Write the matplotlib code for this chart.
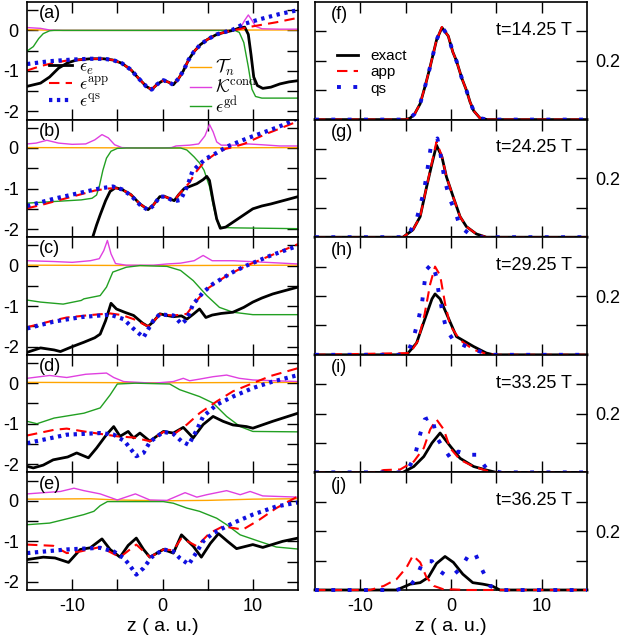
import matplotlib
matplotlib.use("Agg")
import matplotlib.pyplot as plt
from matplotlib.lines import Line2D

plt.rcParams["font.family"] = ["Liberation Sans", "DejaVu Sans"]
plt.rcParams["mathtext.fontset"] = "cm"
plt.rcParams["axes.unicode_minus"] = False

# ---------------- left panels: energies (a)-(e) ----------------
# (a)
za_ee = [-15, -13.5, -12.5, -11.5, -10.5, -9.5, -8, -6.5, -5.5, -4.5, -3.5, -2.7, -1.8, -1.2, -0.6, 0.1,
         0.7, 1.2, 1.8, 2.3, 2.9, 3.5, 4.2, 5, 6, 7, 7.8, 8.5, 9.1, 9.5, 9.8, 10.1, 10.5, 11.1, 12, 13, 14, 15]
a_ee = [-1.38, -1.3, -1.15, -0.93, -0.8, -0.73, -0.7, -0.7, -0.73, -0.81, -0.97, -1.17, -1.38, -1.46, -1.33, -1.23,
        -1.28, -1.34, -1.18, -1.0, -0.72, -0.52, -0.35, -0.22, -0.1, -0.04, 0.0, 0.06, 0.08, -0.1, -0.6, -1.15, -1.36, -1.43, -1.4, -1.32, -1.27, -1.24]
za_app = [-15, -13.5, -12, -10.5, -9.5, -8, -6.5, -5.5, -4.5, -3.5, -2.7, -1.8, -1.2, -0.6, 0.1,
          0.7, 1.2, 1.8, 2.3, 2.9, 3.5, 4.2, 5, 6, 7, 7.8, 10, 12.6, 15]
a_app = [-0.99, -0.88, -0.8, -0.74, -0.73, -0.7, -0.7, -0.73, -0.81, -0.97, -1.17, -1.38, -1.46, -1.33, -1.23,
         -1.28, -1.34, -1.18, -1.0, -0.72, -0.52, -0.35, -0.22, -0.1, -0.04, 0.0, 0.1, 0.2, 0.31]
za_qs = [-15, -12.5, -10, -8, -6.5, -5.5, -4.5, -3.5, -2.7, -1.8, -1.2, -0.6, 0.1,
         0.7, 1.2, 1.8, 2.3, 2.9, 3.5, 4.2, 5, 6, 7.8, 8.9, 10.7, 12.9, 15]
a_qs = [-0.83, -0.76, -0.72, -0.7, -0.7, -0.73, -0.81, -0.97, -1.17, -1.38, -1.46, -1.33, -1.23,
        -1.28, -1.34, -1.18, -1.0, -0.72, -0.52, -0.35, -0.22, -0.1, 0.02, 0.15, 0.27, 0.4, 0.5]
za_tn = [-15, -12, 0, 12, 15]
a_tn = [0.02, 0.0, 0.0, 0.01, 0.01]
za_k = [-15, -13.5, -12.5, -11, 8, 8.6, 9.1, 9.5, 9.9, 10.3, 11, 13, 15]
a_k = [0.07, 0.05, 0.01, 0.0, 0.0, 0.05, 0.25, 0.38, 0.25, 0.1, 0.04, 0.03, 0.03]
za_gd = [-15, -14.3, -13.7, -13.2, -12.5, -12, 8, 8.5, 9, 9.5, 9.9, 10.3, 11, 15]
a_gd = [-0.51, -0.4, -0.2, -0.08, -0.01, 0.0, 0.0, -0.05, -0.3, -0.9, -1.45, -1.63, -1.67, -1.67]

# (b)
zb_ee = [-7.8, -7.3, -6.9, -6.3, -5.8, -5.2, -4.5, -3.5, -2.5, -1.6, -1.0, -0.3, 0.3, 0.8, 1.3, 1.8, 2.4, 3.0,
         3.8, 4.5, 4.9, 5.2, 5.6, 6.0, 6.4, 7, 8, 9, 10, 11, 12, 13, 14, 15]
b_ee = [-2.25, -1.9, -1.65, -1.3, -1.07, -0.98, -1.02, -1.15, -1.38, -1.52, -1.4, -1.2, -1.2, -1.25, -1.3, -1.15, -1.0, -0.95,
        -0.88, -0.78, -0.7, -0.8, -1.3, -1.75, -1.98, -1.95, -1.8, -1.65, -1.5, -1.43, -1.38, -1.32, -1.26, -1.2]
zb_app = [-15, -13, -11, -9, -7.5, -6, -5.2, -4.5, -3.5, -2.5, -1.6, -1.0, -0.3, 0.3, 0.8, 1.3, 1.8, 2.4,
          3.0, 3.6, 4.3, 5, 6, 7, 7.8, 9, 10, 11.5, 13, 15]
b_app = [-1.49, -1.38, -1.26, -1.14, -1.05, -1.0, -0.99, -1.02, -1.15, -1.38, -1.52, -1.4, -1.2, -1.2, -1.25, -1.3, -1.15, -1.0,
         -0.85, -0.62, -0.43, -0.28, -0.12, -0.02, 0.02, 0.1, 0.2, 0.35, 0.48, 0.66]
zb_qs = [-15, -12, -9, -7, -5.5, -4.5, -3.5, -2.5, -1.6, -1.0, -0.3, 0.3, 1.0, 1.6, 2.0, 2.4, 2.8, 3.3,
         4.0, 4.9, 6, 7.2, 8.5, 10, 12, 13.5, 15]
b_qs = [-1.43, -1.25, -1.1, -1.0, -0.95, -1.02, -1.17, -1.4, -1.53, -1.42, -1.2, -1.2, -1.28, -1.3, -1.28, -1.1, -0.91, -0.58,
        -0.42, -0.25, -0.12, 0.04, 0.16, 0.29, 0.45, 0.58, 0.74]
zb_tn = [-15, 0, 15]
b_tn = [0.01, 0.0, 0.01]
zb_k = [-15, -14, -12.8, -11.5, -10, -8.5, -7.5, -6.7, -6, -5.3, -4.5, -3, 0, 1, 1.5, 3, 4, 4.7, 5.2,
        5.6, 6, 6.5, 8, 9.5, 11, 13, 15]
b_k = [0.1, 0.12, 0.19, 0.12, 0.09, 0.1, 0.2, 0.33, 0.25, 0.08, 0.01, 0.0, 0.0, 0.01, 0.05, 0.07, 0.1, 0.3, 0.58,
       0.4, 0.15, 0.07, 0.07, 0.1, 0.08, 0.05, 0.05]
zb_gd = [-15, -12, -9, -7.8, -7.3, -7, -6.6, -6.2, -5.7, -5, -4, 2, 2.7, 3.5, 4.1, 4.6, 5.2, 5.6, 6.0, 6.5, 8, 15]
b_gd = [-1.36, -1.32, -1.28, -1.24, -1.16, -0.95, -0.55, -0.25, -0.08, -0.01, 0.0, 0.0, -0.05, -0.22, -0.37, -0.55,
        -0.95, -1.4, -1.78, -1.96, -1.97, -1.99]

# (c)
zc_ee = [-15, -13.5, -12, -11.3, -10, -8.7, -7.5, -6.9, -6.3, -5.7, -5.1, -4.2, -3.2, -2.2, -1.6, -1.0, -0.3,
         0.5, 1.2, 2.1, 2.7, 3.4, 4.1, 4.8, 5.5, 6.5, 7.8, 9, 10, 11, 12.2, 13.5, 15]
c_ee = [-2.14, -2.03, -2.08, -2.12, -2.0, -1.89, -1.78, -1.69, -1.36, -0.93, -1.07, -1.15, -1.23, -1.42, -1.5, -1.38, -1.19,
        -1.23, -1.26, -1.24, -1.32, -1.2, -1.07, -1.28, -1.22, -1.18, -1.15, -1.03, -0.9, -0.8, -0.7, -0.62, -0.53]
zc_app = [-15, -12, -10.6, -8, -5.8, -4.5, -3.2, -1.6, -1.0, -0.3, 0.5, 1.2, 2.1, 2.7, 3.8, 4.9, 7.1, 9.3, 12, 15]
c_app = [-1.52, -1.35, -1.28, -1.22, -1.18, -1.22, -1.32, -1.5, -1.38, -1.2, -1.22, -1.23, -1.21, -1.19, -0.86, -0.58,
         -0.25, 0.0, 0.25, 0.53]
zc_qs = [-15, -12, -9, -5.8, -4.3, -3.2, -2.1, -1.5, -1.0, -0.3, 0.5, 1.2, 2.1, 2.7, 3.4, 4.5, 5.6, 7.8, 9.3, 12, 15]
c_qs = [-1.55, -1.38, -1.27, -1.21, -1.32, -1.56, -1.77, -1.54, -1.35, -1.2, -1.22, -1.23, -1.44, -1.32, -0.95, -0.66,
        -0.45, -0.16, 0.0, 0.25, 0.49]
zc_tn = [-15, 0, 15]
c_tn = [0.01, 0.0, 0.01]
zc_k = [-15, -12, -10, -8, -7, -6.5, -6.1, -5.7, -5.2, -4, -1, 0.5, 2, 3.5, 4.5, 5.5, 7.8, 11.5, 15]
c_k = [0.12, 0.1, 0.08, 0.12, 0.17, 0.37, 0.62, 0.29, 0.05, 0.01, 0.01, 0.04, 0.06, 0.12, 0.25, 0.12, 0.12, 0.08, 0.04]
zc_gd = [-15, -13.5, -11, -9, -8.7, -6.9, -6.2, -5.5, -4, -2.5, 0.5, 2, 3.4, 4.9, 6.3, 7.8, 10, 15]
c_gd = [-0.85, -0.9, -0.95, -0.86, -0.82, -0.74, -0.53, -0.16, -0.04, 0.0, -0.02, -0.12, -0.37, -0.74, -1.03, -1.15,
        -1.21, -1.21]

# (d)
zd_ee = [-15, -14.3, -13.2, -12.1, -10.5, -9.5, -8.2, -7.3, -6.2, -5.4, -4.7, -3.8, -3.2, -2.5, -1.4, 0.1, 1.2,
         2.3, 3.4, 4.5, 5.6, 6.7, 7.8, 9.3, 10, 12.2, 15]
d_ee = [-2.05, -2.09, -2.02, -1.89, -1.82, -1.72, -1.84, -1.6, -1.27, -1.07, -1.31, -1.19, -1.35, -1.23, -1.43, -1.19, -1.23,
        -1.09, -1.35, -1.02, -0.82, -0.94, -1.03, -1.07, -1.11, -0.94, -0.74]
zd_app = [-15, -12, -10.6, -8.7, -6.9, -5, -3.2, -1.4, 0.1, 1.2, 2.7, 4.1, 6, 7.8, 10, 12, 15]
d_app = [-1.29, -1.15, -1.12, -1.19, -1.25, -1.31, -1.34, -1.43, -1.2, -1.27, -1.02, -0.74, -0.45, -0.2, 0.0, 0.18, 0.37]
zd_qs = [-15, -10.6, -6.9, -5.4, -4.2, -2.9, -2.1, -1.4, 0.1, 1.2, 2.1, 2.9, 3.8, 4.5, 6, 7.8, 10, 12.2, 15]
d_qs = [-1.48, -1.27, -1.23, -1.27, -1.43, -1.8, -1.72, -1.45, -1.2, -1.25, -1.43, -1.52, -1.15, -0.82, -0.53, -0.33,
        -0.12, 0.04, 0.2]
zd_tn = [-15, 0, 15]
d_tn = [0.02, 0.01, 0.02]
zd_k = [-15, -12.5, -10.6, -8.5, -6.2, -5.4, -4.3, -1, 1.2, 2.3, 3, 4.1, 5.6, 7.1, 8.5, 10, 15]
d_k = [0.12, 0.19, 0.14, 0.22, 0.25, 0.14, 0.04, 0.0, 0.04, 0.12, 0.06, 0.1, 0.16, 0.2, 0.12, 0.08, 0.04]
zd_gd = [-15, -13.9, -12, -8.7, -6.9, -5.8, -5, -3, 0.8, 1.9, 4.1, 5.6, 7.1, 8.6, 10, 15]
d_gd = [-0.94, -1.0, -0.86, -0.74, -0.61, -0.29, -0.02, 0.0, -0.02, -0.16, -0.33, -0.49, -0.82, -1.07, -1.19, -1.2]

# (e)
ze_ee = [-15, -13.2, -11.9, -10.4, -9.1, -8, -6.7, -5.8, -4.7, -3.8, -2.9, -2.1, -1.4, 0.1, 1.2, 2.1, 3.4, 4.3,
         5.3, 6.2, 7.2, 8.2, 10, 11.1, 13.3, 15]
e_ee = [-1.45, -1.39, -1.41, -1.52, -1.2, -1.16, -0.94, -1.2, -1.39, -1.1, -0.92, -1.2, -1.39, -1.2, -1.29, -0.84, -1.12,
        -1.39, -1.05, -0.81, -1.0, -1.18, -1.08, -1.15, -1.0, -0.92]
ze_app = [-15, -12.1, -10.6, -9.1, -6.9, -4.7, -2.9, -1.4, 0.1, 1.2, 2.1, 3.8, 5.2, 6.7, 8.9, 10.7, 12.6, 15]
e_app = [-1.08, -1.11, -1.29, -1.25, -1.14, -1.39, -1.08, -1.39, -1.2, -1.22, -0.92, -1.12, -0.8, -0.63, -0.71, -0.47,
         -0.18, 0.11]
ze_qs = [-15, -10.6, -6.9, -5.4, -4.3, -3.7, -2.9, -2.1, -1.2, 0.1, 1.2, 1.9, 2.9, 3.6, 4.5, 5.6, 7.8, 10, 12.6, 15]
e_qs = [-1.29, -1.2, -1.16, -1.25, -1.41, -1.57, -1.82, -1.66, -1.39, -1.2, -1.25, -1.41, -1.57, -1.33, -1.0, -0.8,
        -0.55, -0.34, -0.14, -0.04]
ze_tn = [-15, -8, -5, 0, 5, 10, 15]
e_tn = [0.04, 0.05, 0.02, 0.0, 0.01, 0.04, 0.05]
ze_k = [-15, -11.3, -9.8, -8.7, -6.9, -5, -3, -1.4, 0.5, 2.5, 3.8, 4.9, 7.1, 8.6, 9.7, 11.1, 15]
e_k = [0.17, 0.23, 0.31, 0.25, 0.17, 0.02, 0.17, 0.02, 0.01, 0.2, 0.09, 0.15, 0.25, 0.15, 0.23, 0.12, 0.09]
ze_gd = [-15, -12.5, -10.3, -8.7, -7.6, -6.9, -6.1, -3, 0.1, 1.2, 2.7, 4.1, 6, 7.1, 8.6, 10.7, 12.6, 15]
e_gd = [-0.59, -0.55, -0.43, -0.34, -0.26, -0.12, -0.02, -0.02, -0.02, -0.06, -0.18, -0.26, -0.43, -0.59, -0.84, -1.0,
        -1.14, -1.19]

# ---------------- right panels: densities (f)-(j) ----------------
times = ["t=14.25 T", "t=24.25 T", "t=29.25 T", "t=33.25 T", "t=36.25 T"]

zf = [-15, -5, -4.5, -4, -3.4, -2.8, -2.3, -1.6, -1.0, -0.3, 0.2, 0.6, 1.2, 1.7, 2.1, 2.5, 3.2, 4, 15]
f_exact = [0, 0, 0.005, 0.02, 0.054, 0.12, 0.18, 0.27, 0.313, 0.284, 0.23, 0.2, 0.14, 0.1, 0.06, 0.03, 0.005, 0, 0]
f_app = [0, 0, 0.005, 0.02, 0.054, 0.12, 0.18, 0.27, 0.315, 0.284, 0.23, 0.2, 0.14, 0.1, 0.06, 0.03, 0.005, 0, 0]
f_qs = [0, 0, 0.005, 0.02, 0.054, 0.12, 0.18, 0.27, 0.315, 0.284, 0.23, 0.2, 0.14, 0.1, 0.06, 0.03, 0.005, 0, 0]

zg = [-15, -5.3, -4.2, -3.4, -2.7, -2.1, -1.6, -1.0, -0.5, 0.3, 1.0, 1.7, 2.8, 3.9, 15]
g_exact = [0, 0, 0.025, 0.07, 0.17, 0.25, 0.313, 0.273, 0.205, 0.132, 0.07, 0.036, 0.011, 0, 0]
g_app = [0, 0, 0.025, 0.07, 0.17, 0.255, 0.325, 0.275, 0.205, 0.132, 0.07, 0.036, 0.011, 0, 0]
zg_qs = [-15, -5, -4.5, -3.8, -3.0, -2.7, -2.2, -1.5, -1.2, -0.7, -0.1, 0.4, 1.0, 1.9, 3.2, 15]
g_qs = [0, 0, 0.02, 0.06, 0.155, 0.21, 0.313, 0.336, 0.29, 0.194, 0.127, 0.093, 0.036, 0.014, 0, 0]

zh = [-15, -4.9, -3.8, -2.9, -2.1, -1.76, -1.2, -0.5, 0.6, 2.5, 3.9, 4.7, 15]
h_exact = [0, 0, 0.04, 0.12, 0.19, 0.207, 0.19, 0.14, 0.062, 0.028, 0.006, 0, 0]
zh_app = [-15, -4.5, -3.6, -2.9, -2.3, -1.76, -1.2, -0.66, -0.1, 1.0, 2.5, 3.9, 5, 15]
h_app = [0, 0.006, 0.05, 0.14, 0.24, 0.3, 0.27, 0.175, 0.1, 0.05, 0.017, 0.003, 0, 0]
zh_qs = [-15, -5, -4.5, -4.0, -3.6, -3.2, -2.9, -2.7, -2.1, -1.6, -1.4, -0.85, -0.5, 0.26, 1.7, 3.2, 4.7, 15]
h_qs = [0, 0, 0.028, 0.073, 0.12, 0.175, 0.25, 0.29, 0.31, 0.265, 0.22, 0.13, 0.085, 0.05, 0.028, 0.011, 0, 0]

zi = [-15, -5.3, -4.1, -3.0, -2.1, -1.2, -0.1, 1.0, 2.5, 3.9, 5.0, 15]
i_exact = [0, 0, 0.02, 0.054, 0.1, 0.134, 0.09, 0.048, 0.02, 0.008, 0, 0]
zi_app = [-15, -8.6, -7.4, -5.6, -4.1, -3.0, -2.3, -1.6, -0.8, -0.1, 1.0, 2.5, 3.9, 5, 15]
i_app = [0, 0, 0.008, 0.01, 0.037, 0.083, 0.146, 0.18, 0.146, 0.083, 0.043, 0.02, 0.006, 0, 0]
zi_qs = [-15, -5, -4.5, -4.0, -3.4, -2.9, -2.1, -1.6, -0.9, 0.07, 0.8, 1.7, 2.8, 3.9, 5.4, 15]
i_qs = [0, 0, 0.025, 0.054, 0.13, 0.18, 0.19, 0.12, 0.086, 0.043, 0.071, 0.06, 0.06, 0.014, 0, 0]

zj = [-15, -6, -4.5, -3.4, -2.5, -1.6, -0.66, 0.26, 1.3, 2.4, 3.5, 4.5, 5.4, 15]
j_exact = [0, 0, 0.02, 0.025, 0.043, 0.09, 0.114, 0.094, 0.054, 0.025, 0.02, 0.014, 0, 0]
zj_app = [-15, -8.9, -7.4, -6.0, -4.9, -4.2, -3.4, -2.7, -1.9, -0.8, 0.26, 1.7, 15]
j_app = [0, 0, 0.014, 0.037, 0.077, 0.117, 0.094, 0.043, 0.014, 0.002, 0.002, 0, 0]
zj_qs = [-15, -6, -4.5, -3.8, -3.1, -2.1, -1.4, -0.5, 0.3, 1.1, 1.9, 2.6, 3.4, 4.3, 5.4, 15]
j_qs = [0, 0, 0.014, 0.043, 0.098, 0.098, 0.068, 0.048, 0.052, 0.075, 0.117, 0.129, 0.071, 0.014, 0, 0]

left_labels = ["(a)", "(b)", "(c)", "(d)", "(e)"]
right_labels = ["(f)", "(g)", "(h)", "(i)", "(j)"]

C_QS = "#1010e0"
DOTS_L = (0, (0.8, 1.1))   # dense square dots, left column
DOTS_R = (0, (1.0, 3.2))   # sparse square dots, right column


def style_axes(ax, yticks):
    ax.set_xlim(-15, 15)
    ax.set_xticks([-10, -5, 0, 5, 10])
    ax.set_yticks(yticks)
    ax.tick_params(direction="in", length=8, width=1, top=True, right=True, labelsize=13, pad=6)
    for s in ax.spines.values():
        s.set_linewidth(1.2)


def draw_left(ax, curves, label, show_x):
    (zt, tn), (zk, kk), (zg_, gd), (ze, ee), (za, ap), (zq, qs) = curves
    ax.plot(zt, tn, color="orange", lw=1)
    ax.plot(zk, kk, color="#e040e0", lw=1)
    ax.plot(zg_, gd, color="#22a022", lw=1)
    ax.plot(ze, ee, color="black", lw=2)
    ax.plot(za, ap, color="red", lw=1.5, ls=(0, (5, 3)))
    ax.plot(zq, qs, color=C_QS, lw=3, ls=DOTS_L)
    style_axes(ax, [-2, -1.5, -1, -0.5, 0, 0.5])
    ax.set_ylim(-2.2, 0.7)
    ax.set_yticklabels(["-2", "", "-1", "", "0", ""])
    if show_x:
        ax.set_xticklabels(["-10", "", "0", "", "10"])
        ax.set_xlabel("z ( a. u.)", fontsize=14, labelpad=2)
    else:
        ax.set_xticklabels([])
    ax.text(0.045, 0.9, label, transform=ax.transAxes, fontsize=13, va="center")


def draw_right(ax, curves, label, tlabel, show_x):
    (ze, ex), (za, ap), (zq, qs) = curves
    ax.plot(ze, ex, color="black", lw=2, clip_on=False, zorder=3)
    ax.plot(za, ap, color="red", lw=1.5, ls=(0, (5, 3)), clip_on=False, zorder=3)
    ax.plot(zq, qs, color=C_QS, lw=2.8, ls=DOTS_R, clip_on=False, zorder=3)
    style_axes(ax, [0.1, 0.2, 0.3])
    ax.set_ylim(0, 0.4)
    ax.tick_params(labelleft=False, labelright=True)
    ax.set_yticklabels(["", "0.2", ""])
    if show_x:
        ax.set_xticklabels(["-10", "", "0", "", "10"])
        ax.set_xlabel("z ( a. u.)", fontsize=14, labelpad=2)
    else:
        ax.set_xticklabels([])
    ax.text(0.06, 0.89, label, transform=ax.transAxes, fontsize=13, va="center")
    ax.text(0.945, 0.76, tlabel, transform=ax.transAxes, fontsize=13, va="center", ha="right")


fig = plt.figure(figsize=(6.24, 6.4), dpi=100)
top = 1 - 2 / 640
bottom = 1 - 590 / 640
h = (top - bottom) / 5

left_data = [
    [(za_tn, a_tn), (za_k, a_k), (za_gd, a_gd), (za_ee, a_ee), (za_app, a_app), (za_qs, a_qs)],
    [(zb_tn, b_tn), (zb_k, b_k), (zb_gd, b_gd), (zb_ee, b_ee), (zb_app, b_app), (zb_qs, b_qs)],
    [(zc_tn, c_tn), (zc_k, c_k), (zc_gd, c_gd), (zc_ee, c_ee), (zc_app, c_app), (zc_qs, c_qs)],
    [(zd_tn, d_tn), (zd_k, d_k), (zd_gd, d_gd), (zd_ee, d_ee), (zd_app, d_app), (zd_qs, d_qs)],
    [(ze_tn, e_tn), (ze_k, e_k), (ze_gd, e_gd), (ze_ee, e_ee), (ze_app, e_app), (ze_qs, e_qs)],
]
right_data = [
    [(zf, f_exact), (zf, f_app), (zf, f_qs)],
    [(zg, g_exact), (zg, g_app), (zg_qs, g_qs)],
    [(zh, h_exact), (zh_app, h_app), (zh_qs, h_qs)],
    [(zi, i_exact), (zi_app, i_app), (zi_qs, i_qs)],
    [(zj, j_exact), (zj_app, j_app), (zj_qs, j_qs)],
]

left_axes = []
right_axes = []
for k in range(5):
    y0 = top - (k + 1) * h
    axl = fig.add_axes([27 / 624, y0, 271 / 624, h])
    draw_left(axl, left_data[k], left_labels[k], k == 4)
    left_axes.append(axl)
    axr = fig.add_axes([315 / 624, y0, 272 / 624, h])
    draw_right(axr, right_data[k], right_labels[k], times[k], k == 4)
    right_axes.append(axr)

# legends in (a)
ax = left_axes[0]
h1 = [Line2D([], [], color="black", lw=2),
      Line2D([], [], color="red", lw=1.5, ls=(0, (5, 3))),
      Line2D([], [], color=C_QS, lw=3, ls=DOTS_L)]
leg1 = ax.legend(h1, [r"$\epsilon_e$", r"$\epsilon^{\rm app}$", r"$\epsilon^{\rm qs}$"],
                 loc="upper left", bbox_to_anchor=(0.08, 0.52), frameon=False, fontsize=13,
                 handlelength=1.3, handletextpad=0.4, labelspacing=0.0, borderpad=0, borderaxespad=0)
ax.add_artist(leg1)
h2 = [Line2D([], [], color="orange", lw=1),
      Line2D([], [], color="#e040e0", lw=1),
      Line2D([], [], color="#22a022", lw=1)]
ax.legend(h2, [r"$\mathcal{T}_n$", r"$\mathcal{K}^{\rm cond}$", r"$\epsilon^{\rm gd}$"],
          loc="upper left", bbox_to_anchor=(0.6, 0.53), frameon=False, fontsize=13,
          handlelength=1.2, handletextpad=0.2, labelspacing=-0.1, borderpad=0, borderaxespad=0)

# legend in (f)
axf = right_axes[0]
h3 = [Line2D([], [], color="black", lw=2),
      Line2D([], [], color="red", lw=1.5, ls=(0, (5, 3))),
      Line2D([], [], color=C_QS, lw=2.8, ls=DOTS_R)]
axf.legend(h3, ["exact", "app", "qs"], loc="upper left", bbox_to_anchor=(0.08, 0.6),
           frameon=False, fontsize=11, handlelength=1.4, handletextpad=0.8, labelspacing=0.15,
           borderpad=0, borderaxespad=0)

fig.savefig("out.png", dpi=100)
